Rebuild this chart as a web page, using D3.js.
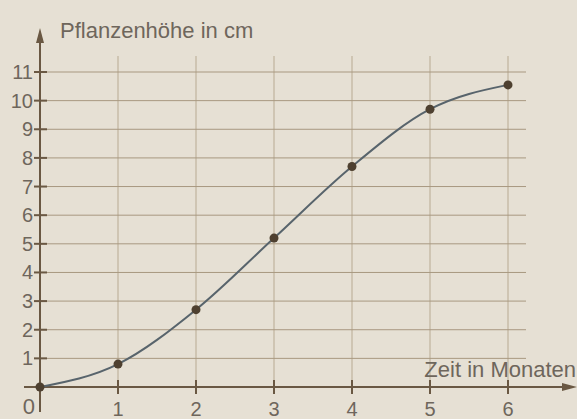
<!DOCTYPE html>
<html lang="de">
<head>
<meta charset="utf-8">
<title>Pflanzenhöhe</title>
<style>
body{
  margin: 0;
  background: #e6e0d4;
}
svg text{
  font-family: "Liberation Sans", Arial, sans-serif;
  fill: #6e665c;
}
</style>
</head>
<body>
<div id="chart"></div>
<script src="https://d3js.org/d3.v7.min.js"></script>
<script>
  // Data
  const months = [0, 1, 2, 3, 4, 5, 6];
  const heights = [0, 0.8, 2.7, 5.2, 7.7, 9.7, 10.55];
  const xTicks = [1, 2, 3, 4, 5, 6];
  const yTicks = [1, 2, 3, 4, 5, 6, 7, 8, 9, 10, 11];

  const width = 577;
  const height = 419;

  const svg = d3.select("#chart")
    .append("svg")
    .attr("width", width)
    .attr("height", height);

  svg.append("rect")
    .attr("width", width)
    .attr("height", height)
    .attr("fill", "#e6e0d4");

  const x = d3.scaleLinear().domain([0, 6]).range([40, 508]);
  const y = d3.scaleLinear().domain([0, 11]).range([387, 72]);

  // grid
  svg.append("g")
    .selectAll("line")
    .data(xTicks)
    .join("line")
    .attr("x1", d => x(d)).attr("x2", d => x(d))
    .attr("y1", 56).attr("y2", y(0))
    .attr("stroke", "#b8aa92")
    .attr("stroke-width", 1);

  svg.append("g")
    .selectAll("line")
    .data(yTicks)
    .join("line")
    .attr("x1", x(0)).attr("x2", 526)
    .attr("y1", d => y(d)).attr("y2", d => y(d))
    .attr("stroke", "#a89880")
    .attr("stroke-width", 1);

  // axes
  const axisColor = "#6a5843";
  svg.append("line")
    .attr("x1", 24).attr("x2", 566)
    .attr("y1", y(0)).attr("y2", y(0))
    .attr("stroke", axisColor).attr("stroke-width", 2);
  svg.append("path")
    .attr("d", `M577,${y(0)} L562,${y(0) - 4} L562,${y(0) + 4} Z`)
    .attr("fill", axisColor);

  svg.append("line")
    .attr("x1", x(0)).attr("x2", x(0))
    .attr("y1", 412).attr("y2", 40)
    .attr("stroke", axisColor).attr("stroke-width", 2);
  svg.append("path")
    .attr("d", `M${x(0)},28 L${x(0) - 4},43 L${x(0) + 4},43 Z`)
    .attr("fill", axisColor);

  // tick marks
  svg.append("g")
    .selectAll("line")
    .data(xTicks)
    .join("line")
    .attr("x1", d => x(d)).attr("x2", d => x(d))
    .attr("y1", y(0) - 7).attr("y2", y(0) + 7)
    .attr("stroke", axisColor).attr("stroke-width", 2);

  svg.append("g")
    .selectAll("line")
    .data(yTicks)
    .join("line")
    .attr("x1", x(0) - 6).attr("x2", x(0) + 7)
    .attr("y1", d => y(d)).attr("y2", d => y(d))
    .attr("stroke", axisColor).attr("stroke-width", 2);

  // tick labels
  svg.append("g")
    .selectAll("text")
    .data(xTicks)
    .join("text")
    .attr("x", d => x(d))
    .attr("y", 416)
    .attr("text-anchor", "middle")
    .attr("font-size", 20)
    .text(d => d);

  svg.append("g")
    .selectAll("text")
    .data(yTicks)
    .join("text")
    .attr("x", x(0) - 7)
    .attr("y", d => y(d) + 7)
    .attr("text-anchor", "end")
    .attr("font-size", 20)
    .text(d => d);

  svg.append("text")
    .attr("x", x(0) - 5)
    .attr("y", 414)
    .attr("text-anchor", "end")
    .attr("font-size", 22)
    .text("0");

  // axis titles
  svg.append("text")
    .attr("x", 60).attr("y", 38)
    .attr("font-size", 22)
    .text("Pflanzenhöhe in cm");

  svg.append("text")
    .attr("x", 576).attr("y", 377)
    .attr("text-anchor", "end")
    .attr("font-size", 22)
    .text("Zeit in Monaten");

  // curve
  const pts = months.map((m, i) => [m, heights[i]]);
  svg.append("path")
    .datum(pts)
    .attr("fill", "none")
    .attr("stroke", "#58646c")
    .attr("stroke-width", 2)
    .attr("d", d3.line().x(d => x(d[0])).y(d => y(d[1])).curve(d3.curveMonotoneX));

  svg.append("g")
    .selectAll("circle")
    .data(pts)
    .join("circle")
    .attr("cx", d => x(d[0]))
    .attr("cy", d => y(d[1]))
    .attr("r", 4.5)
    .attr("fill", "#4e4030");
</script>
</body>
</html>
